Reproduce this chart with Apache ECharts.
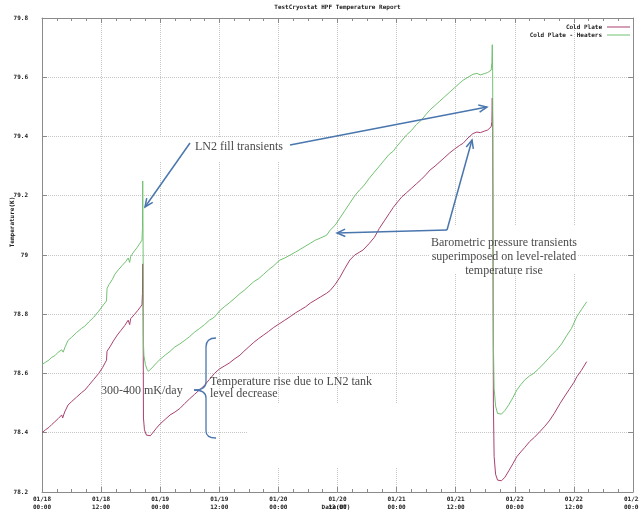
<!DOCTYPE html>
<html><head><meta charset="utf-8">
<script src="https://cdn.jsdelivr.net/npm/echarts/dist/echarts.min.js"></script>
<style>html,body{margin:0;padding:0;background:#fff}#c{width:639px;height:510px}</style>
</head><body><div id="c"></div>
<script>
// ---- data ----
const chartTitle = 'TestCryostat HPF Temperature Report';
const seriesNames = ['Cold Plate', 'Cold Plate - Heaters'];
const xAxisName = 'Date(UT)';
const yAxisName = 'Temperature(K)';
const xTickLabels = ['01/18\n00:00','01/18\n12:00','01/19\n00:00','01/19\n12:00','01/20\n00:00','01/20\n12:00','01/21\n00:00','01/21\n12:00','01/22\n00:00','01/22\n12:00','01/23\n00:00'];
const yTickLabels = ['78.2','78.4','78.6','78.8','79','79.2','79.4','79.6','79.8'];

// hours since 01/18 00:00 (UT)
const coldHours = [0,0.7,1.4,2.0,2.6,3.3,4.0,4.2,4.6,5.3,6.0,7.0,8.0,8.7,9.5,10.5,11.5,12.3,13.1,13.2,13.8,14.5,15.3,16.0,16.8,17.5,17.8,18.0,18.7,19.4,20.0,20.3,20.4,20.45,20.5,20.55,20.6,20.8,21.2,21.6,22.0,22.5,23.2,24.0,25.0,26.0,27.0,28.0,29.0,30.0,31.0,32.0,33.0,34.0,35.0,36.0,37.0,38.0,39.0,40.2,41.0,42.0,43.0,44.0,45.0,46.0,47.0,48.3,49.3,50.4,51.5,52.5,53.5,54.5,55.5,56.5,57.8,58.5,59.5,60.5,61.5,62.5,63.5,64.5,65.2,66.5,67.5,68.5,69.5,70.5,71.3,72.0,73.0,74.0,75.0,76.0,77.0,78.0,78.8,79.8,80.8,81.8,82.8,83.8,84.8,85.5,86.5,87.5,88.3,89.0,89.8,90.5,91.2,91.35,91.43,91.5,91.55,91.6,91.65,91.8,92.1,92.5,92.85,93.3,94.0,94.8,95.6,96.4,97.2,98.0,99.0,100.0,101.1,102.0,103.0,104.0,105.2,106.0,107.0,108.0,108.6,109.5,110.6];
const coldTemp = [78.40,78.41,78.418,78.428,78.437,78.448,78.46,78.45,78.47,78.494,78.505,78.52,78.535,78.544,78.56,78.58,78.60,78.62,78.645,78.675,78.69,78.71,78.73,78.745,78.762,78.78,78.765,78.785,78.798,78.812,78.825,78.832,78.87,78.97,78.90,78.70,78.45,78.41,78.392,78.387,78.39,78.40,78.415,78.43,78.445,78.46,78.47,78.482,78.499,78.515,78.53,78.545,78.56,78.58,78.60,78.615,78.625,78.635,78.648,78.662,78.675,78.69,78.705,78.718,78.73,78.742,78.755,78.769,78.78,78.792,78.805,78.815,78.825,78.838,78.848,78.858,78.871,78.88,78.90,78.925,78.955,78.983,79.00,79.01,79.017,79.04,79.06,79.09,79.115,79.14,79.16,79.175,79.195,79.21,79.225,79.24,79.255,79.272,79.287,79.30,79.315,79.33,79.345,79.358,79.37,79.377,79.395,79.41,79.415,79.413,79.418,79.422,79.433,79.45,79.53,79.45,79.20,78.80,78.50,78.32,78.26,78.24,78.235,78.238,78.25,78.272,78.295,78.319,78.335,78.35,78.37,78.385,78.404,78.42,78.44,78.465,78.499,78.52,78.545,78.57,78.589,78.61,78.64];

const heatHours = [0,0.7,1.4,2.0,2.6,3.3,4.0,4.3,4.7,5.3,6.0,7.0,8.0,8.7,9.5,10.5,11.5,12.3,13.1,13.2,13.6,14.3,14.8,15.5,16.3,17.0,17.5,17.8,18.0,18.6,19.3,19.9,20.3,20.4,20.45,20.5,20.55,20.6,20.7,21.0,21.3,21.6,22.0,22.5,23.2,24.0,25.0,26.0,27.0,28.0,29.0,30.0,31.0,32.0,33.0,34.0,35.0,36.1,37.0,38.0,39.0,40.2,41.0,42.0,43.0,44.0,45.0,46.0,47.0,48.3,49.3,50.4,51.5,52.5,53.5,54.5,55.5,56.5,57.8,58.5,59.5,60.5,61.5,62.5,63.5,64.5,65.2,66.5,67.5,68.5,69.5,70.5,71.3,72.0,73.0,74.0,75.0,76.0,77.0,78.0,78.8,79.8,80.8,81.8,82.8,83.8,84.8,85.5,86.5,87.5,88.3,89.0,89.8,90.5,91.2,91.35,91.43,91.5,91.55,91.6,91.65,91.8,92.1,92.5,92.85,93.3,94.0,94.8,95.6,96.4,97.2,98.0,99.0,99.8,100.8,101.8,102.8,103.8,104.5,105.5,106.5,107.5,108.6,109.5,110.6];
const heatTemp = [78.63,78.638,78.645,78.655,78.66,78.672,78.68,78.672,78.69,78.712,78.722,78.738,78.752,78.76,78.774,78.79,78.81,78.828,78.845,78.886,78.90,78.918,78.935,78.95,78.965,78.978,78.99,78.975,78.995,79.01,79.025,79.04,79.05,79.09,79.25,79.12,78.95,78.70,78.66,78.63,78.615,78.607,78.61,78.622,78.635,78.648,78.662,78.675,78.69,78.70,78.712,78.725,78.74,78.752,78.765,78.78,78.79,78.812,78.825,78.838,78.852,78.87,78.88,78.895,78.91,78.92,78.935,78.95,78.963,78.983,78.99,79.00,79.01,79.02,79.03,79.04,79.05,79.057,79.067,79.084,79.10,79.125,79.15,79.175,79.20,79.22,79.231,79.26,79.28,79.30,79.32,79.34,79.35,79.366,79.385,79.405,79.42,79.44,79.455,79.475,79.49,79.505,79.52,79.535,79.55,79.565,79.58,79.59,79.60,79.61,79.613,79.608,79.612,79.616,79.624,79.65,79.71,79.62,79.40,79.00,78.70,78.55,78.49,78.465,78.46,78.463,78.475,78.495,78.518,78.544,78.562,78.578,78.592,78.60,78.615,78.632,78.65,78.668,78.679,78.70,78.727,78.752,78.792,78.815,78.842];

// annotation texts
const noteFill = 'LN2 fill transients';
const noteBaro = ['Barometric pressure transients', 'superimposed on level-related', 'temperature rise'];
const noteRate = '300-400 mK/day';
const noteLevel = ['Temperature rise due to LN2 tank', 'level decrease'];

// ---- chart ----
const pairs = (xs, ys) => xs.map((x, i) => [x, ys[i]]);
const mono = '"DejaVu Sans Mono", monospace';
const serif = '"Liberation Serif", "DejaVu Serif", serif';
const axisGrey = '#8a8a8a';
const gridStyle = {show: true, lineStyle: {color: '#c6c6c6', type: 'dotted', width: 1}};
const blue = '#4a76ae';
const textGrey = '#4a4a4a';

function arrow(x1, y1, x2, y2) {
  const a = Math.atan2(y2 - y1, x2 - x1), L = 9, s = 0.42;
  const pts = [[x2 - L * Math.cos(a - s), y2 - L * Math.sin(a - s)], [x2, y2], [x2 - L * Math.cos(a + s), y2 - L * Math.sin(a + s)]];
  return [
    {type: 'line', z: 20, shape: {x1, y1, x2, y2}, style: {stroke: blue, lineWidth: 1.5}},
    {type: 'polyline', z: 20, shape: {points: pts}, style: {stroke: blue, lineWidth: 1.5, fill: null}}
  ];
}
function bez(x1, y1, cpx1, cpy1, cpx2, cpy2, x2, y2) {
  return {type: 'bezierCurve', z: 20, shape: {x1, y1, cpx1, cpy1, cpx2, cpy2, x2, y2}, style: {stroke: blue, lineWidth: 1.3, fill: null}};
}
function seg(x1, y1, x2, y2) {
  return {type: 'line', z: 20, shape: {x1, y1, x2, y2}, style: {stroke: blue, lineWidth: 1.3}};
}

const graphics = [
  // white text-box backgrounds pasted over the plot
  {type: 'rect', z: 1, shape: {x: 247, y: 404, width: 208, height: 64}, style: {fill: '#fff'}},
  {type: 'rect', z: 1, shape: {x: 430, y: 226, width: 148, height: 47}, style: {fill: '#fff'}},
  {type: 'rect', z: 1, shape: {x: 150, y: 138, width: 140, height: 24}, style: {fill: '#fff'}},
  // title and axis names
  {type: 'text', z: 20, x: 337.5, y: 7, style: {text: chartTitle, font: 'bold 6px ' + mono, fill: '#222', align: 'center', verticalAlign: 'middle'}},
  {type: 'text', z: 20, x: 12, y: 222, rotation: Math.PI / 2, style: {text: yAxisName, font: 'bold 6px ' + mono, fill: '#222', align: 'center', verticalAlign: 'middle'}},
  {type: 'text', z: 20, x: 336, y: 507, style: {text: xAxisName, font: 'bold 6px ' + mono, fill: '#222', align: 'center', verticalAlign: 'middle'}},
  // annotations
  {type: 'text', z: 20, x: 195, y: 147, style: {text: noteFill, font: '12px ' + serif, fill: textGrey, align: 'left', verticalAlign: 'middle'}},
  {type: 'text', z: 20, x: 504, y: 236, style: {text: noteBaro.join('\n'), font: '12px ' + serif, fill: textGrey, align: 'center', verticalAlign: 'top', lineHeight: 14}},
  {type: 'text', z: 20, x: 101, y: 391, style: {text: noteRate, font: '12px ' + serif, fill: textGrey, align: 'left', verticalAlign: 'middle'}},
  {type: 'text', z: 20, x: 210, y: 376, style: {text: noteLevel.join('\n'), font: '12px ' + serif, fill: textGrey, align: 'left', verticalAlign: 'top', lineHeight: 12}},
  // curly brace
  bez(216, 338, 209, 338, 206, 341, 206, 347),
  seg(206, 347, 206, 382),
  bez(206, 382, 206, 387, 203, 390, 194, 390),
  bez(194, 390, 203, 390, 206, 393, 206, 398),
  seg(206, 398, 206, 431),
  bez(206, 431, 206, 436, 209, 438, 216, 438),
  // arrows
  ...arrow(190, 143, 145, 207),
  ...arrow(290, 145, 487, 107),
  ...arrow(447, 230, 337, 233),
  ...arrow(447, 230, 472, 140)
];

const tickLabelStyle = {fontFamily: mono, fontWeight: 'bold', fontSize: 6, color: '#222'};
const baseX = {
  type: 'value', min: 0, max: 120, interval: 12,
  axisLine: {show: true, onZero: false, lineStyle: {color: axisGrey, width: 1}},
  axisTick: {show: true, inside: true, length: 5, lineStyle: {color: axisGrey}},
  minorTick: {show: true, splitNumber: 4, length: 3, lineStyle: {color: axisGrey}}
};
const baseY = {
  type: 'value', min: 78.2, max: 79.8, interval: 0.2,
  axisLine: {show: true, onZero: false, lineStyle: {color: axisGrey, width: 1}},
  axisTick: {show: true, inside: true, length: 5, lineStyle: {color: axisGrey}}
};
const chart = echarts.init(document.getElementById('c'), null, {renderer: 'canvas'});
chart.setOption({
  animation: false,
  backgroundColor: '#fff',
  grid: {left: 42, right: 6, top: 18, bottom: 18, containLabel: false, outerBoundsMode: 'none', show: false},
  legend: {
    orient: 'vertical', right: 9, top: 24, align: 'right', padding: 0,
    icon: 'rect', itemWidth: 23, itemHeight: 1, itemGap: 2,
    textStyle: {fontFamily: mono, fontWeight: 'bold', fontSize: 6, color: '#222', lineHeight: 6},
    data: seriesNames
  },
  xAxis: [Object.assign({}, baseX, {
    position: 'bottom',
    axisLabel: Object.assign({margin: 3, lineHeight: 8, formatter: v => xTickLabels[Math.round(v / 12)] || ''}, tickLabelStyle),
    splitLine: gridStyle
  }), Object.assign({}, baseX, {
    position: 'top', axisLabel: {show: false}, splitLine: {show: false}
  })],
  yAxis: [Object.assign({}, baseY, {
    position: 'left',
    axisLabel: Object.assign({margin: 14, formatter: v => yTickLabels[Math.round((v - 78.2) / 0.2)] || ''}, tickLabelStyle),
    splitLine: gridStyle
  }), Object.assign({}, baseY, {
    position: 'right', axisLabel: {show: false}, splitLine: {show: false}
  })],
  series: [{
    name: seriesNames[0], type: 'line', symbol: 'none', sampling: null, z: 3,
    xAxisIndex: 0, yAxisIndex: 0,
    lineStyle: {color: '#a9416f', width: 1}, itemStyle: {color: '#a9416f'},
    data: pairs(coldHours, coldTemp)
  }, {
    name: seriesNames[1], type: 'line', symbol: 'none', z: 4,
    xAxisIndex: 1, yAxisIndex: 1,
    lineStyle: {color: '#72c272', width: 1}, itemStyle: {color: '#72c272'},
    data: pairs(heatHours, heatTemp)
  }],
  graphic: graphics
});
</script></body></html>
